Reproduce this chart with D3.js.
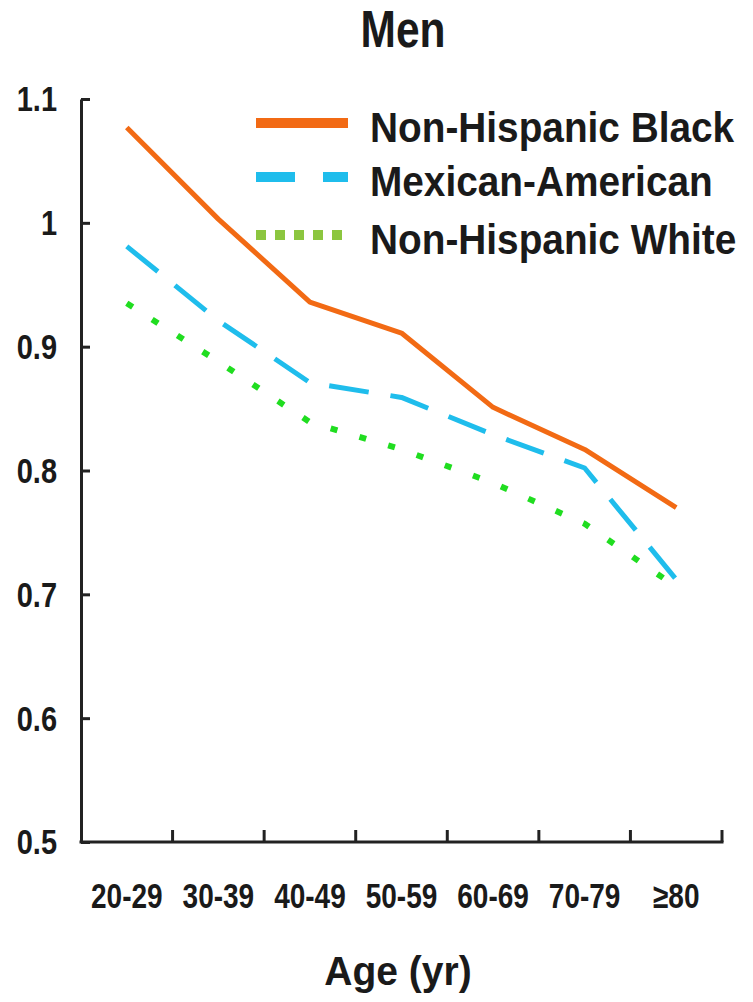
<!DOCTYPE html>
<html>
<head>
<meta charset="utf-8">
<script src="https://cdn.jsdelivr.net/npm/d3@7"></script>
<style>
  html, body { margin: 0; padding: 0; background: #fff; }
  svg { display: block; }
  text { font-family: "Liberation Sans", Arial, sans-serif; font-weight: bold; fill: #1a1a1a; }
</style>
</head>
<body>
<svg id="chart" width="753" height="1002"></svg>
<script>
// Age groups along the x axis
const ageGroups = ["20-29", "30-39", "40-49", "50-59", "60-69", "70-79", "≥80"];

// Series values per age group
const nonHispanicBlack = [1.077, 1.003, 0.936, 0.911, 0.851, 0.817, 0.770];
const mexicanAmerican  = [0.981, 0.921, 0.871, 0.859, 0.829, 0.802, 0.712];
const nonHispanicWhite = [0.935, 0.888, 0.839, 0.817, 0.790, 0.757, 0.706];

const seriesNames = ["Non-Hispanic Black", "Mexican-American", "Non-Hispanic White"];
const yTicks = [0.5, 0.6, 0.7, 0.8, 0.9, 1, 1.1];

const series = [
  { name: seriesNames[0], values: nonHispanicBlack, color: "#f26a14", key: "#f26a14", width: 5, dash: null,    keyDash: null,    keyWidth: 10 },
  { name: seriesNames[1], values: mexicanAmerican,  color: "#1fbdec", key: "#1fbdec", width: 5, dash: "40,22", keyDash: "39,28", keyWidth: 10 },
  { name: seriesNames[2], values: nonHispanicWhite, color: "#20dd20", key: "#8cc63f", width: 6, dash: "7,23",  keyDash: "10,9",  keyWidth: 10 }
];

const svg = d3.select("#chart");
const plotLeft = 81, plotRight = 722, plotTop = 99, plotBottom = 842;

const x = d3.scaleBand().domain(ageGroups).range([plotLeft, plotRight]).padding(0);
const y = d3.scaleLinear().domain([0.5, 1.1]).range([plotBottom, plotTop]);

const axisColor = "#222";

// Y axis with inward ticks
const yAxis = svg.append("g")
  .attr("transform", `translate(${plotLeft},0)`)
  .call(d3.axisLeft(y).tickValues(yTicks).tickSizeInner(-9).tickSizeOuter(0).tickPadding(24)
    .tickFormat(d => d3.format("")(d)));
yAxis.select(".domain").attr("stroke", axisColor).attr("stroke-width", 3);
yAxis.selectAll(".tick line").attr("stroke", axisColor).attr("stroke-width", 3);
yAxis.selectAll(".tick text")
  .attr("font-size", 29)
  .attr("font-family", null)
  .attr("dy", null)
  .attr("dominant-baseline", "central")
  .attr("transform", "scale(1,1.2)")
  .attr("y", 0);

// X axis: baseline, boundary ticks pointing up, centred labels
const xAxis = svg.append("g").attr("transform", `translate(0,${plotBottom})`);
xAxis.append("line")
  .attr("x1", plotLeft - 1.5).attr("x2", plotRight + 1.5)
  .attr("stroke", axisColor).attr("stroke-width", 3);
xAxis.selectAll("line.bound")
  .data(ageGroups)
  .join("line")
  .attr("class", "bound")
  .attr("x1", d => x(d) + x.bandwidth()).attr("x2", d => x(d) + x.bandwidth())
  .attr("y1", 0).attr("y2", -12)
  .attr("stroke", axisColor).attr("stroke-width", 3);
xAxis.selectAll("text.age")
  .data(ageGroups)
  .join("text")
  .attr("class", "age")
  .attr("text-anchor", "middle")
  .attr("font-size", 28)
  .attr("transform", d => `translate(${x(d) + x.bandwidth() / 2},${66}) scale(1,1.22)`)
  .text(d => d);

// Lines
const line = d3.line()
  .x((d, i) => x(ageGroups[i]) + x.bandwidth() / 2)
  .y(d => y(d));

svg.append("g").selectAll("path.series")
  .data(series)
  .join("path")
  .attr("class", "series")
  .attr("fill", "none")
  .attr("stroke", d => d.color)
  .attr("stroke-width", d => d.width)
  .attr("stroke-dasharray", d => d.dash)
  .attr("stroke-linejoin", "round")
  .attr("d", d => line(d.values));

// Legend
const legendRows = [123, 177, 235];
const legend = svg.append("g");
series.forEach((s, i) => {
  legend.append("line")
    .attr("x1", 256).attr("x2", 348)
    .attr("y1", legendRows[i]).attr("y2", legendRows[i])
    .attr("stroke", s.key)
    .attr("stroke-width", s.keyWidth)
    .attr("stroke-dasharray", s.keyDash);
  legend.append("text")
    .attr("font-size", 38.8)
    .attr("transform", `translate(370,${legendRows[i] + 19}) scale(1,1.1)`)
    .text(s.name);
});

// Title
svg.append("text")
  .attr("text-anchor", "middle")
  .attr("font-size", 42.5)
  .attr("transform", "translate(403,47) scale(1,1.2)")
  .text("Men");

// X axis title
svg.append("text")
  .attr("text-anchor", "middle")
  .attr("font-size", 39)
  .attr("transform", "translate(398,985) scale(1,1.05)")
  .text("Age (yr)");
</script>
</body>
</html>
